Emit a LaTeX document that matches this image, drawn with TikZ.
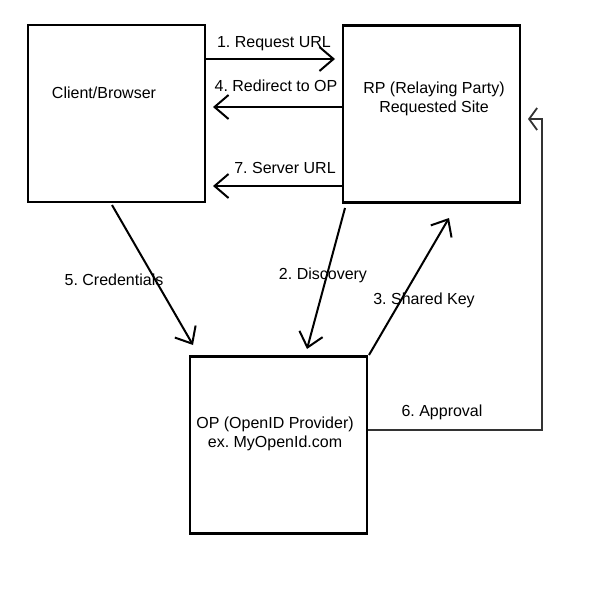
\documentclass[tikz,border=0pt]{standalone}
\usepackage{fontspec}
\setmainfont{Liberation Sans}
\usetikzlibrary{arrows.meta}
\frenchspacing
\begin{document}
\begin{tikzpicture}[x=1pt,y=-1pt,font=\fontsize{16}{19}\selectfont,
  party/.style={draw, line width=2.6pt, minimum width=177pt, minimum height=177pt, inner sep=0pt},
  msg/.style={line width=2pt, -{Straight Barb[length=14pt,width=24pt,line width=2pt]}},
  lbl/.style={inner sep=0pt, align=center}]
\useasboundingbox (0,0) rectangle (600,600);
\node[party] (client) at (116.5,113.5){};
\node[party] (rp) at (431.5,114){};
\node[party] (op) at (278.5,445){};
\node[lbl] at (104,93){Client/Browser};
\node[lbl] at (434,98.5){RP (Relaying Party)\\Requested Site};
\node[lbl] at (275,434){OP (OpenID Provider)\\ex. MyOpenId.com};
% horizontal messages
\coordinate (req) at (335,59);
\coordinate (redir) at (213,107);
\coordinate (srv) at (213,186);
\draw[msg] (client.east |- req) -- (req);
\draw[msg] (rp.west |- redir) -- (redir);
\draw[msg] (rp.west |- srv) -- (srv);
\node[lbl] at (274,44){1. Request URL};
\node[lbl] at (276,86){4. Redirect to OP};
\node[lbl] at (285,168){7. Server URL};
% messages to and from the provider
\coordinate (cred0) at (112,205);
\coordinate (cred1) at (193,345);
\coordinate (disc0) at (345,208);
\coordinate (disc1) at (307,349);
\coordinate (key0) at (369,355);
\coordinate (key1) at (449,218);
\draw[msg] (cred0) -- (cred1);
\draw[msg] (disc0) -- (disc1);
\draw[msg] (key0) -- (key1);
\node[lbl] at (114,280){5. Credentials};
\node[lbl] at (323,275){2. Discovery};
\node[lbl] at (424,300){3. Shared Key};
% approval
\coordinate (aprturn) at (542,119);
\coordinate (aprend) at (528,119);
\draw[line width=1.6pt, black!80, -{Straight Barb[length=8pt,width=22pt,line width=1.8pt]}] (op.east |- 0,430) -| (aprturn) -- (aprend);
\node[lbl] at (442,412){6. Approval};
\end{tikzpicture}
\end{document}
